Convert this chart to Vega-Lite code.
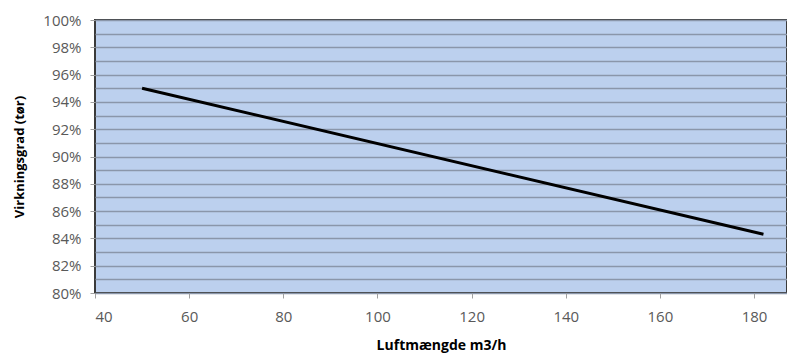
{
  "$schema": "https://vega.github.io/schema/vega-lite/v6.json",
  "autosize": "none",
  "width": 692,
  "height": 273,
  "padding": {"left": 95, "top": 20, "right": 0, "bottom": 63},
  "background": "#ffffff",
  "config": {
    "view": {"fill": "#BCD0EE", "stroke": "#3a3a3a", "strokeWidth": 2},
    "font": "Open Sans"
  },
  "data": {
    "values": [
      {"luft": 50, "virk": 0.950},
      {"luft": 182, "virk": 0.843}
    ]
  },
  "mark": {"type": "line", "color": "#000000", "strokeWidth": 3},
  "encoding": {
    "x": {
      "field": "luft",
      "type": "quantitative",
      "scale": {"domain": [40, 187], "nice": false, "zero": false},
      "axis": {
        "title": "Luftmængde m3/h",
        "values": [40, 60, 80, 100, 120, 140, 160, 180],
        "grid": false,
        "domain": false,
        "tickColor": "#a0a0a0",
        "tickSize": 5,
        "labelFont": "Open Sans",
        "labelFontSize": 15,
        "labelColor": "#595959",
        "labelPadding": 11,
        "titleFont": "Open Sans",
        "titleFontSize": 14,
        "titleFontWeight": "bold",
        "titleColor": "#000000",
        "titlePadding": 14
      }
    },
    "y": {
      "field": "virk",
      "type": "quantitative",
      "scale": {"domain": [0.8, 1.0], "nice": false, "zero": false},
      "axis": {
        "title": "Virkningsgrad (tør)",
        "values": [0.80, 0.81, 0.82, 0.83, 0.84, 0.85, 0.86, 0.87, 0.88, 0.89, 0.90, 0.91, 0.92, 0.93, 0.94, 0.95, 0.96, 0.97, 0.98, 0.99, 1.0],
        "labelExpr": "round(datum.value*100) % 2 == 0 ? format(datum.value, '.0%') : ''",
        "grid": true,
        "gridColor": "#8A96AA",
        "gridWidth": 1.5,
        "domain": false,
        "tickColor": "#a0a0a0",
        "tickSize": 5,
        "tickOpacity": {"condition": {"test": "round(datum.value*100) % 2 == 0", "value": 1}, "value": 0},
        "labelFont": "Open Sans",
        "labelFontSize": 15,
        "labelColor": "#595959",
        "labelPadding": 9,
        "titleFont": "Open Sans",
        "titleFontSize": 13,
        "titleFontWeight": "bold",
        "titleColor": "#000000",
        "titlePadding": 16
      }
    }
  }
}
